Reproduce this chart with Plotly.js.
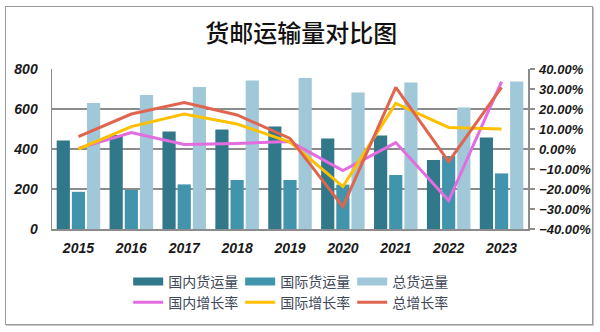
<!DOCTYPE html>
<html>
<head>
<meta charset="utf-8">
<script src="https://cdn.plot.ly/plotly-3.0.1.min.js"></script>
<style>
  html, body { margin: 0; padding: 0; background: #fff; }
  #wrap { position: relative; width: 600px; height: 332px; }
  #chart { width: 600px; height: 332px; }
  #frame { position: absolute; left: 5px; top: 6px; width: 586px; height: 317px;
           border: 1px solid #9a9a9a; box-shadow: 1px 1px 0 #c8c8c8; pointer-events: none; }
</style>
</head>
<body>
<div id="wrap">
  <div id="chart"></div>
  <div id="frame"></div>
</div>
<script>
const years = ['2015', '2016', '2017', '2018', '2019', '2020', '2021', '2022', '2023'];
const domesticVolume = [442, 470, 487, 497, 513, 453, 468, 345, 457];
const internationalVolume = [186, 195, 223, 245, 245, 222, 270, 365, 278];
const totalVolume = [630, 670, 710, 742, 755, 682, 733, 608, 737];
const domesticGrowth = [0.003, 0.082, 0.023, 0.028, 0.037, -0.108, 0.032, -0.258, 0.337];
const internationalGrowth = [0.0, 0.112, 0.175, 0.125, 0.035, -0.188, 0.228, 0.108, 0.100];
const totalGrowth = [0.062, 0.175, 0.232, 0.17, 0.053, -0.288, 0.308, -0.063, 0.308];

const barNames = ['国内货运量', '国际货运量', '总货运量'];
const lineNames = ['国内增长率', '国际增长率', '总增长率'];
const barColors = ['#31788B', '#4294AD', '#A0C8D8'];
const lineColors = ['#E36CE0', '#FFC000', '#E0654F'];

const barData = [domesticVolume, internationalVolume, totalVolume];
const lineData = [domesticGrowth, internationalGrowth, totalGrowth];

const traces = [];
barData.forEach((vals, i) => {
  traces.push({
    type: 'bar', x: years, y: vals, name: barNames[i],
    marker: { color: barColors[i] }, showlegend: false, hoverinfo: 'skip'
  });
});
// legend swatches for bars (wide rectangles)
barData.forEach((vals, i) => {
  traces.push({
    type: 'scatter', mode: 'lines', x: [null], y: [null], name: barNames[i],
    line: { color: barColors[i], width: 8 }, legend: 'legend', showlegend: true
  });
});
lineData.forEach((vals, i) => {
  traces.push({
    type: 'scatter', mode: 'lines', x: years, y: vals, name: lineNames[i],
    yaxis: 'y2', line: { color: lineColors[i], width: 3 },
    legend: 'legend2', showlegend: true
  });
});

const tickFont = { family: 'Liberation Sans, Arial, sans-serif', size: 14, weight: 'bold', style: 'italic', color: '#1a1a1a' };
const legendFont = { family: 'Noto Sans CJK SC, sans-serif', size: 14, color: '#404858' };

const layout = {
  width: 600, height: 332,
  margin: { l: 52, r: 72, t: 69, b: 103 },
  paper_bgcolor: '#fff', plot_bgcolor: '#fff',
  title: {
    text: '货邮运输量对比图',
    font: { family: 'Noto Sans CJK SC, sans-serif', size: 24, color: '#111', weight: 500 },
    x: 0.502, xanchor: 'center', y: 0.9, yanchor: 'middle', yref: 'container'
  },
  barmode: 'group', bargap: 0.14, bargroupgap: 0.13,
  xaxis: {
    type: 'category', showgrid: false, showline: true, linecolor: '#8c8c8c', linewidth: 1.5,
    ticks: '', tickfont: tickFont, ticklabelstandoff: 6, zeroline: false, fixedrange: true
  },
  yaxis: {
    range: [0, 800], dtick: 200, showgrid: true, gridcolor: '#8c8c8c', gridwidth: 1.5,
    showline: true, linecolor: '#8c8c8c', linewidth: 1.5, ticks: '', tickfont: tickFont,
    ticklabelstandoff: 10, zeroline: false
  },
  yaxis2: {
    overlaying: 'y', side: 'right', range: [-0.4, 0.4], dtick: 0.1, tickformat: '.2%',
    showgrid: false, showline: true, linecolor: '#8c8c8c', linewidth: 1.5,
    ticks: 'outside', ticklen: 5, tickcolor: '#8c8c8c', tickwidth: 1.5,
    tickfont: Object.assign({}, tickFont, { size: 13 }), ticklabelstandoff: 2, zeroline: false
  },
  legend: {
    orientation: 'h', x: 0.513, xanchor: 'center', y: -0.33, yanchor: 'middle',
    font: legendFont, entrywidth: 67, itemwidth: 30, tracegroupgap: 0, bgcolor: 'rgba(0,0,0,0)'
  },
  legend2: {
    orientation: 'h', x: 0.513, xanchor: 'center', y: -0.46, yanchor: 'middle',
    font: legendFont, entrywidth: 67, itemwidth: 30, tracegroupgap: 0, bgcolor: 'rgba(0,0,0,0)'
  },
  showlegend: true
};

Plotly.newPlot('chart', traces, layout, { displayModeBar: false, staticPlot: true });
</script>
</body>
</html>
